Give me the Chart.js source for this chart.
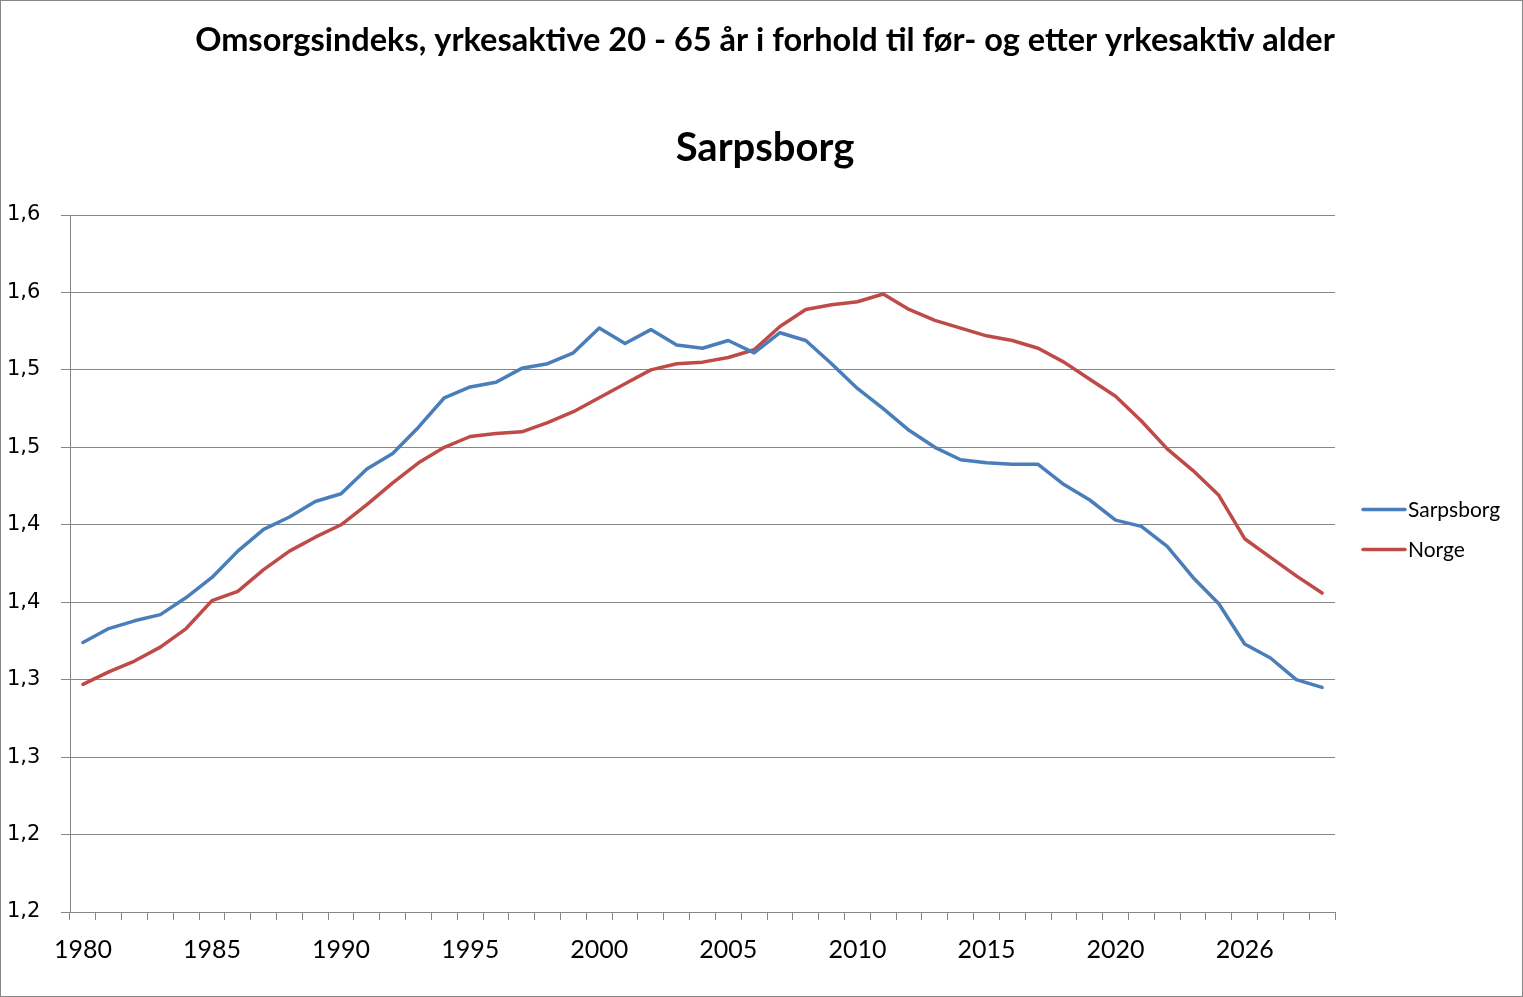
<!DOCTYPE html>
<html>
<head>
<meta charset="utf-8">
<script src="https://cdn.jsdelivr.net/npm/chart.js@4/dist/chart.umd.min.js"></script>
<style>
  body { margin: 0; background: #fff; }
  #wrap { width: 1523px; height: 997px; position: relative; }
</style>
</head>
<body>
<div id="wrap"><canvas id="omsorgChart"></canvas></div>
<script>
const years = [
  '1980', '1981', '1982', '1983', '1984', '1985', '1986', '1987', '1988', '1989',
  '1990', '1991', '1992', '1993', '1994', '1995', '1996', '1997', '1998', '1999',
  '2000', '2001', '2002', '2003', '2004', '2005', '2006', '2007', '2008', '2009',
  '2010', '2011', '2012', '2013', '2014', '2015', '2016', '2017', '2018', '2019',
  '2020', '2021', '2022', '2023', '2024', '2026', '2027', '2028', '2029'
];
const sarpsborg = [
  1.324, 1.333, 1.338, 1.342, 1.353, 1.366, 1.383, 1.397, 1.405, 1.415,
  1.420, 1.436, 1.446, 1.463, 1.482, 1.489, 1.492, 1.501, 1.504, 1.511,
  1.527, 1.517, 1.526, 1.516, 1.514, 1.519, 1.511, 1.524, 1.519, 1.504,
  1.488, 1.475, 1.461, 1.450, 1.442, 1.440, 1.439, 1.439, 1.426, 1.416,
  1.403, 1.399, 1.386, 1.366, 1.349, 1.323, 1.314, 1.300, 1.295
];
const norge = [
  1.297, 1.305, 1.312, 1.321, 1.333, 1.351, 1.357, 1.371, 1.383, 1.392,
  1.400, 1.413, 1.427, 1.440, 1.450, 1.457, 1.459, 1.460, 1.466, 1.473,
  1.482, 1.491, 1.500, 1.504, 1.505, 1.508, 1.513, 1.528, 1.539, 1.542,
  1.544, 1.549, 1.539, 1.532, 1.527, 1.522, 1.519, 1.514, 1.505, 1.494,
  1.483, 1.467, 1.449, 1.435, 1.419, 1.391, 1.379, 1.367, 1.356
];
// excel shows the 0.05 steps rounded to one decimal
const yTickLabels = ['1,2', '1,2', '1,3', '1,3', '1,4', '1,4', '1,5', '1,5', '1,6', '1,6'];
const seriesNames = ['Sarpsborg', 'Norge'];
const seriesColors = ['#4A7EBB', '#BE4B48'];

const axisGrey = '#868686';

// draws the white page + thin frame around the whole chart
const frame = {
  id: 'frame',
  beforeDraw(chart) {
    const ctx = chart.ctx;
    ctx.save();
    ctx.fillStyle = '#fff';
    ctx.fillRect(0, 0, chart.width, chart.height);
    ctx.restore();
  },
  afterDraw(chart) {
    const ctx = chart.ctx;
    ctx.save();
    ctx.strokeStyle = axisGrey;
    ctx.lineWidth = 1;
    ctx.strokeRect(0.5, 0.5, chart.width - 1, chart.height - 1);
    ctx.restore();
  }
};

// legend to the right, line sample + name like excel
const sideLegend = {
  id: 'sideLegend',
  afterDraw(chart) {
    const ctx = chart.ctx;
    const area = chart.chartArea;
    const x0 = area.right + 28;
    const midY = (area.top + area.bottom) / 2;
    ctx.save();
    ctx.font = '21px Lato';
    ctx.textBaseline = 'middle';
    chart.data.datasets.forEach((ds, i) => {
      const y = midY - 54 + i * 40;
      ctx.strokeStyle = ds.borderColor;
      ctx.lineWidth = 3.5;
      ctx.lineCap = 'round';
      ctx.beginPath();
      ctx.moveTo(x0, y);
      ctx.lineTo(x0 + 42, y);
      ctx.stroke();
      ctx.fillStyle = '#000';
      ctx.fillText(ds.label, x0 + 45, y + 1);
    });
    ctx.restore();
  }
};

const ctx = document.getElementById('omsorgChart').getContext('2d');
new Chart(ctx, {
  type: 'line',
  data: {
    labels: years,
    datasets: [
      { label: seriesNames[0], data: sarpsborg, borderColor: seriesColors[0], backgroundColor: seriesColors[0] },
      { label: seriesNames[1], data: norge, borderColor: seriesColors[1], backgroundColor: seriesColors[1] }
    ]
  },
  options: {
    responsive: true,
    maintainAspectRatio: false,
    animation: false,
    layout: { padding: { left: 7, right: 0, top: 0, bottom: 17 } },
    elements: {
      point: { radius: 0, hoverRadius: 0 },
      line: { borderWidth: 3.5, tension: 0, borderJoinStyle: 'round', borderCapStyle: 'round', fill: false }
    },
    plugins: {
      legend: { display: false },
      tooltip: { enabled: false },
      title: {
        display: true,
        text: 'Omsorgsindeks, yrkesaktive 20 - 65 år i forhold til før- og etter yrkesaktiv alder',
        color: '#000',
        font: { family: 'Lato', size: 32.5, weight: 'bold' },
        padding: { top: 21, bottom: 0 }
      },
      subtitle: {
        display: true,
        text: 'Sarpsborg',
        color: '#000',
        font: { family: 'Lato', size: 40, weight: 'bold' },
        padding: { top: 64, bottom: 43 }
      }
    },
    scales: {
      x: {
        type: 'category',
        offset: true,
        grid: {
          display: true,
          offset: true,
          drawOnChartArea: false,
          drawTicks: true,
          tickLength: 8,
          color: axisGrey
        },
        border: { display: true, color: axisGrey, width: 1 },
        ticks: {
          autoSkip: false,
          maxRotation: 0,
          padding: 15,
          color: '#000',
          font: { family: 'Lato', size: 25 },
          callback: (val, i) => (i % 5 === 0 ? years[i] : '')
        }
      },
      y: {
        min: 1.15,
        max: 1.6,
        afterFit: (scale) => { scale.width = 63; },
        grid: {
          color: axisGrey,
          tickLength: 9,
          drawTicks: true
        },
        border: { display: true, color: axisGrey, width: 1 },
        ticks: {
          stepSize: 0.05,
          crossAlign: 'far',
          color: '#000',
          font: { family: 'DejaVu Sans', size: 21 },
          callback: (val, i) => yTickLabels[i]
        }
      },
      // empty space on the right where the legend sits
      legendSpace: {
        type: 'linear',
        position: 'right',
        display: true,
        afterFit: (scale) => { scale.width = 188; },
        grid: { display: false },
        border: { display: false },
        ticks: { display: false }
      }
    }
  },
  plugins: [frame, sideLegend]
});
</script>
</body>
</html>
